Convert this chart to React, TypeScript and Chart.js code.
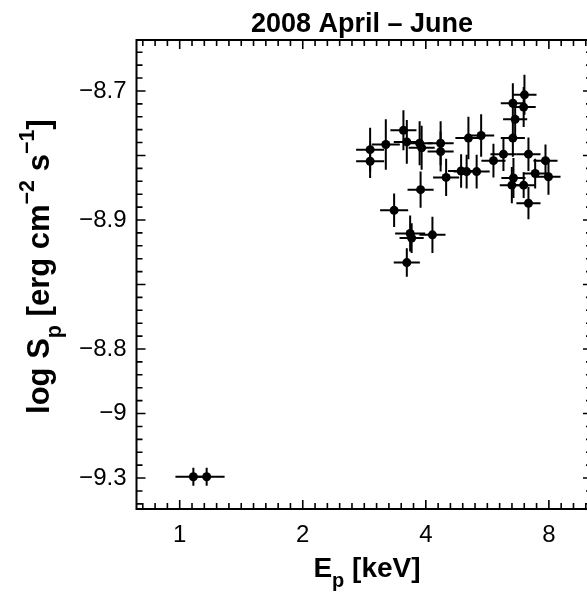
import { useEffect, useRef } from "react";
import { Chart, registerables } from "chart.js";

Chart.register(...registerables);

const FONT = '"Liberation Sans", Arial, Helvetica, sans-serif';

// ---- data ----
const titleText = "2008 April \u2013 June";
const xTickValues = [1, 2, 4, 8];
const xTickLabels = ["1", "2", "4", "8"];
const yTickValues = [-8.7, -8.9, -9.1, -9.2, -9.3];
const yTickLabels = ["\u22128.7", "\u22128.9", "\u22128.8", "\u22129", "\u22129.3"];

// peak energy E_p [keV]
const ep = [
  2.923, 2.923, 3.193, 3.526, 3.594, 3.863, 3.907, 4.348, 4.348, 4.485,
  3.884, 3.346, 3.662, 3.693, 4.152, 3.594, 5.085, 5.463, 4.88, 5.034,
  5.326, 5.855, 6.194, 6.531, 6.972, 6.941, 6.616, 6.531, 7.131, 6.553,
  6.494, 6.941, 7.131, 7.406, 7.849, 7.982, 1.08, 1.164,
];
// half width of E_p error, in octaves (log2 units)
const epErr = [
  0.114, 0.114, 0.114, 0.106, 0.106, 0.106, 0.106, 0.106, 0.106, 0.106,
  0.106, 0.114, 0.122, 0.098, 0.106, 0.106, 0.106, 0.106, 0.106, 0.106,
  0.106, 0.098, 0.106, 0.098, 0.098, 0.098, 0.098, 0.098, 0.098, 0.098,
  0.098, 0.098, 0.098, 0.098, 0.098, 0.098, 0.146, 0.146,
];
// log S_p
const logSp = [
  -8.791, -8.809, -8.783, -8.761, -8.779, -8.781, -8.788, -8.781, -8.794, -8.834,
  -8.853, -8.885, -8.921, -8.928, -8.923, -8.966, -8.773, -8.769, -8.824, -8.825,
  -8.825, -8.808, -8.798, -8.719, -8.706, -8.725, -8.744, -8.773, -8.798, -8.835,
  -8.846, -8.846, -8.874, -8.828, -8.808, -8.833, -9.298, -9.298,
];
const logSpErr = [
  0.034, 0.026, 0.039, 0.031, 0.034, 0.034, 0.034, 0.034, 0.031, 0.029,
  0.028, 0.026, 0.028, 0.023, 0.028, 0.022, 0.033, 0.033, 0.026, 0.026,
  0.026, 0.026, 0.026, 0.031, 0.031, 0.031, 0.026, 0.029, 0.026, 0.031,
  0.028, 0.02, 0.025, 0.023, 0.025, 0.028, 0.014, 0.014,
];

const X_MIN = 0.784;
const X_MAX = 10.2;
const Y_MIN = -9.348;
const Y_MAX = -8.621;

type Seg = { t: string; s: number; dy: number };

function drawRich(ctx: CanvasRenderingContext2D, segs: Seg[], cx: number, base: number) {
  let total = 0;
  const widths = segs.map((g) => {
    ctx.font = `bold ${g.s}px ${FONT}`;
    const w = ctx.measureText(g.t).width;
    total += w;
    return w;
  });
  let x = cx - total / 2;
  ctx.textAlign = "left";
  ctx.textBaseline = "alphabetic";
  segs.forEach((g, i) => {
    ctx.font = `bold ${g.s}px ${FONT}`;
    ctx.fillText(g.t, x, base + g.dy);
    x += widths[i];
  });
}

const errorBars = {
  id: "errorBars",
  beforeDatasetsDraw(chart: any) {
    const { ctx, scales } = chart;
    const xs = scales.x;
    const ys = scales.y;
    ctx.save();
    ctx.strokeStyle = "#000";
    ctx.lineWidth = 2;
    ep.forEach((e, i) => {
      const yv = logSp[i];
      const px = xs.getPixelForValue(e);
      const py = ys.getPixelForValue(yv);
      ctx.beginPath();
      ctx.moveTo(xs.getPixelForValue(e * Math.pow(2, -epErr[i])), py);
      ctx.lineTo(xs.getPixelForValue(e * Math.pow(2, epErr[i])), py);
      ctx.moveTo(px, ys.getPixelForValue(yv - logSpErr[i]));
      ctx.lineTo(px, ys.getPixelForValue(yv + logSpErr[i]));
      ctx.stroke();
    });
    ctx.restore();
  },
};

const frameAndText = {
  id: "frameAndText",
  afterDraw(chart: any) {
    const { ctx, chartArea, scales } = chart;
    const { left, right, top, bottom } = chartArea;
    const xs = scales.x;
    const ys = scales.y;
    ctx.save();
    ctx.strokeStyle = "#000";
    ctx.lineWidth = 2;
    ctx.strokeRect(left, top, right - left, bottom - top);

    ctx.lineWidth = 1.6;
    ctx.beginPath();
    for (let k = -3; k <= 33; k++) {
      const px = xs.getPixelForValue(Math.pow(2, k / 10));
      const len = k % 10 === 0 ? 9 : 6;
      ctx.moveTo(px, bottom);
      ctx.lineTo(px, bottom - len);
      ctx.moveTo(px, top);
      ctx.lineTo(px, top + len);
    }
    for (let n = -467; n <= -432; n++) {
      const py = ys.getPixelForValue(n * 0.02);
      const len = n % 5 === 0 ? 9 : 6;
      ctx.moveTo(left, py);
      ctx.lineTo(left + len, py);
      ctx.moveTo(right, py);
      ctx.lineTo(right - len, py);
    }
    ctx.stroke();

    ctx.fillStyle = "#000";
    // title
    ctx.font = `bold 27px ${FONT}`;
    ctx.textAlign = "center";
    ctx.textBaseline = "alphabetic";
    ctx.fillText(titleText, 362, 32);

    // x axis title
    drawRich(
      ctx,
      [
        { t: "E", s: 28, dy: 0 },
        { t: "p", s: 20, dy: 10 },
        { t: " [keV]", s: 28, dy: 0 },
      ],
      367,
      577
    );

    // y axis title
    ctx.translate(49, 266.6);
    ctx.rotate(-Math.PI / 2);
    drawRich(
      ctx,
      [
        { t: "log S", s: 31, dy: 0 },
        { t: "p", s: 21.5, dy: 12 },
        { t: " [erg cm", s: 31, dy: 0 },
        { t: "\u22122", s: 21.5, dy: -15 },
        { t: " s", s: 31, dy: 0 },
        { t: "\u22121", s: 21.5, dy: -15 },
        { t: "]", s: 31, dy: 0 },
      ],
      0,
      0
    );
    ctx.restore();
  },
};

export default function App() {
  const ref = useRef<HTMLCanvasElement | null>(null);

  useEffect(() => {
    if (!ref.current) return;
    const points = ep.map((e, i) => ({ x: e, y: logSp[i] }));
    const chart = new Chart(ref.current, {
      type: "scatter",
      data: {
        datasets: [
          {
            data: points,
            pointRadius: 4.5,
            pointBackgroundColor: "#000",
            pointBorderColor: "#000",
            pointBorderWidth: 0,
            showLine: false,
          },
        ],
      },
      options: {
        animation: false,
        responsive: false,
        devicePixelRatio: 1,
        layout: { padding: { top: 40, right: 8, bottom: 0, left: 0 } },
        plugins: {
          legend: { display: false },
          tooltip: { enabled: false },
          title: { display: false },
        },
        scales: {
          x: {
            type: "logarithmic",
            min: X_MIN,
            max: X_MAX,
            grid: { display: false, drawTicks: false },
            border: { display: false },
            afterBuildTicks: (s: any) => {
              s.ticks = xTickValues.map((v) => ({ value: v }));
            },
            afterFit: (s: any) => {
              s.height = 86;
            },
            ticks: {
              callback: (_v: any, i: number) => xTickLabels[i],
              font: { family: FONT, size: 24 },
              color: "#000",
              padding: 12,
              maxRotation: 0,
              autoSkip: false,
            },
          },
          y: {
            type: "linear",
            min: Y_MIN,
            max: Y_MAX,
            grid: { display: false, drawTicks: false },
            border: { display: false },
            afterBuildTicks: (s: any) => {
              s.ticks = yTickValues.map((v) => ({ value: v }));
            },
            afterFit: (s: any) => {
              s.width = 136.5;
            },
            ticks: {
              callback: (_v: any, i: number) => yTickLabels[i],
              font: { family: FONT, size: 24 },
              color: "#000",
              padding: 10,
              autoSkip: false,
            },
          },
        },
      },
      plugins: [errorBars, frameAndText],
    });
    return () => chart.destroy();
  }, []);

  return (
    <div
      style={{
        position: "absolute",
        left: 0,
        top: 0,
        width: 587,
        height: 595,
        overflow: "hidden",
        background: "#fff",
      }}
    >
      <canvas ref={ref} width={600} height={595} style={{ display: "block" }} />
    </div>
  );
}
